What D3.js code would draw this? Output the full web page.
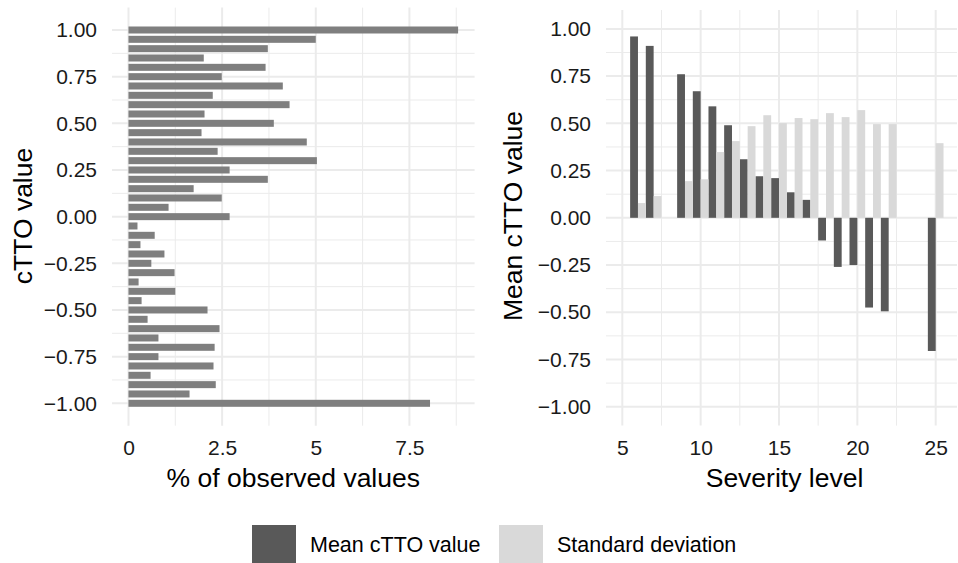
<!DOCTYPE html>
<html>
<head>
<meta charset="utf-8">
<script src="https://cdn.jsdelivr.net/npm/d3@7"></script>
<style>
  body { margin: 0; background: #fff; }
  text { font-family: "Liberation Sans", Arial, sans-serif; }
</style>
</head>
<body>
<div id="chart"></div>
<script>
// left panel: distribution of observed cTTO values
var cttoValues = [1.00, 0.95, 0.90, 0.85, 0.80, 0.75, 0.70, 0.65, 0.60, 0.55, 0.50, 0.45, 0.40, 0.35, 0.30,
  0.25, 0.20, 0.15, 0.10, 0.05, 0.00, -0.05, -0.10, -0.15, -0.20, -0.25, -0.30, -0.35, -0.40, -0.45,
  -0.50, -0.55, -0.60, -0.65, -0.70, -0.75, -0.80, -0.85, -0.90, -0.95, -1.00];
var pctObserved = [8.80, 5.00, 3.72, 2.01, 3.66, 2.49, 4.12, 2.25, 4.30, 2.03, 3.88, 1.95, 4.76, 2.38, 5.03,
  2.70, 3.72, 1.74, 2.49, 1.07, 2.70, 0.24, 0.70, 0.32, 0.96, 0.61, 1.23, 0.27, 1.25, 0.35,
  2.11, 0.51, 2.43, 0.80, 2.30, 0.80, 2.27, 0.59, 2.33, 1.63, 8.05];

// right panel: mean and sd by severity level
var severity = [6, 7, 9, 10, 11, 12, 13, 14, 15, 16, 17, 18, 19, 20, 21, 22, 25];
var meanValue = [0.96, 0.91, 0.76, 0.67, 0.59, 0.49, 0.31, 0.22, 0.21, 0.135, 0.095, -0.12, -0.26, -0.25, -0.475, -0.495, -0.705];
var sdValue = [0.078, 0.115, 0.194, 0.204, 0.348, 0.406, 0.485, 0.543, 0.501, 0.528, 0.522, 0.554, 0.533, 0.570, 0.496, 0.496, 0.395];

var yTicks = [-1, -0.75, -0.5, -0.25, 0, 0.25, 0.5, 0.75, 1];
var leftXTicks = [0, 2.5, 5, 7.5];
var rightXTicks = [5, 10, 15, 20, 25];
var seriesNames = ["Mean cTTO value", "Standard deviation"];
var seriesColors = ["#595959", "#d9d9d9"];

var svgWidth = 958, svgHeight = 563;
var svg = d3.select("#chart").append("svg")
  .attr("width", svgWidth)
  .attr("height", svgHeight);

var fmtY = function(d) { return d3.format(".2f")(d).replace("-", "\u2212"); };
var gridMajor = "#ebebeb", tickColor = "#1a1a1a";

function drawGrid(g, x, y, xMajor, xMinor, yMajor, yMinor) {
  var x0 = x.range()[0], x1 = x.range()[1], y0 = y.range()[0], y1 = y.range()[1];
  g.selectAll(".ymin").data(yMinor).enter().append("line")
    .attr("x1", x0).attr("x2", x1).attr("y1", d => y(d)).attr("y2", d => y(d))
    .attr("stroke", gridMajor).attr("stroke-width", 1);
  g.selectAll(".xmin").data(xMinor).enter().append("line")
    .attr("y1", y0).attr("y2", y1).attr("x1", d => x(d)).attr("x2", d => x(d))
    .attr("stroke", gridMajor).attr("stroke-width", 1);
  g.selectAll(".ymaj").data(yMajor).enter().append("line")
    .attr("x1", x0).attr("x2", x1).attr("y1", d => y(d)).attr("y2", d => y(d))
    .attr("stroke", gridMajor).attr("stroke-width", 2);
  g.selectAll(".xmaj").data(xMajor).enter().append("line")
    .attr("y1", y0).attr("y2", y1).attr("x1", d => x(d)).attr("x2", d => x(d))
    .attr("stroke", gridMajor).attr("stroke-width", 2);
}

function drawAxes(g, x, y, xTicks, xFmt) {
  var yAxis = d3.axisLeft(y).tickValues(yTicks).tickFormat(fmtY).tickSize(0).tickPadding(15);
  var ya = g.append("g").attr("transform", `translate(${x.range()[0]},0)`).call(yAxis);
  var xAxis = d3.axisBottom(x).tickValues(xTicks).tickFormat(xFmt).tickSize(0).tickPadding(14);
  var xa = g.append("g").attr("transform", `translate(0,${y.range()[0]})`).call(xAxis);
  [ya, xa].forEach(function(a) {
    a.select(".domain").remove();
    a.selectAll("text").attr("font-size", "21px").attr("fill", tickColor)
      .attr("font-family", "'Liberation Sans', Arial, sans-serif");
  });
}

// ---- left panel ----
var left = svg.append("g");
var xLeft = d3.scaleLinear().domain([-0.44, 9.24]).range([112, 474.6]);
var yLeft = d3.scaleLinear().domain([-1.12, 1.12]).range([425.7, 7.6]);
drawGrid(left, xLeft, yLeft, [0, 2.5, 5, 7.5], [1.25, 3.75, 6.25, 8.75],
  yTicks, [-0.875, -0.625, -0.375, -0.125, 0.125, 0.375, 0.625, 0.875]);

var barH = yLeft(0) - yLeft(0.0375);
left.selectAll("rect.hist").data(cttoValues).enter().append("rect")
  .attr("class", "hist")
  .attr("x", xLeft(0))
  .attr("y", d => yLeft(d) - barH / 2)
  .attr("width", (d, i) => xLeft(pctObserved[i]) - xLeft(0))
  .attr("height", barH)
  .attr("fill", "#7f7f7f");

drawAxes(left, xLeft, yLeft, leftXTicks, d3.format("~g"));

left.append("text")
  .attr("transform", `translate(${(112 + 474.6) / 2},487)`)
  .attr("text-anchor", "middle").attr("font-size", "26.5px").attr("fill", "#000")
  .text("% of observed values");
left.append("text")
  .attr("transform", "translate(32,216) rotate(-90)")
  .attr("text-anchor", "middle").attr("font-size", "26.5px").attr("fill", "#000")
  .text("cTTO value");

// ---- right panel ----
var right = svg.append("g");
var xRight = d3.scaleLinear().domain([3.96, 26.36]).range([606, 957]);
var yRight = d3.scaleLinear().domain([-1.1, 1.1]).range([425.6, 10]);
drawGrid(right, xRight, yRight, rightXTicks, [7.5, 12.5, 17.5, 22.5],
  yTicks, [-0.875, -0.625, -0.375, -0.125, 0.125, 0.375, 0.625, 0.875]);

var half = xRight(0.5) - xRight(0);
var series = [meanValue, sdValue];
series.forEach(function(vals, s) {
  right.selectAll("rect.s" + s).data(severity).enter().append("rect")
    .attr("class", "s" + s)
    .attr("x", d => xRight(d) - half + s * half)
    .attr("y", (d, i) => yRight(Math.max(0, vals[i])))
    .attr("width", half)
    .attr("height", (d, i) => Math.abs(yRight(vals[i]) - yRight(0)))
    .attr("fill", seriesColors[s]);
});

drawAxes(right, xRight, yRight, rightXTicks, d3.format("d"));

right.append("text")
  .attr("transform", `translate(${(606 + 957) / 2 + 3},487)`)
  .attr("text-anchor", "middle").attr("font-size", "26.5px").attr("fill", "#000")
  .text("Severity level");
right.append("text")
  .attr("transform", "translate(522,216) rotate(-90)")
  .attr("text-anchor", "middle").attr("font-size", "26.5px").attr("fill", "#000")
  .text("Mean cTTO value");

// ---- legend ----
var legendX = [252, 499];
var legend = svg.append("g");
seriesNames.forEach(function(name, i) {
  legend.append("rect")
    .attr("x", legendX[i]).attr("y", 525)
    .attr("width", 44).attr("height", 40)
    .attr("fill", seriesColors[i]);
  legend.append("text")
    .attr("x", legendX[i] + 58).attr("y", 552)
    .attr("font-size", "21.5px").attr("fill", "#000")
    .text(name);
});
</script>
</body>
</html>
